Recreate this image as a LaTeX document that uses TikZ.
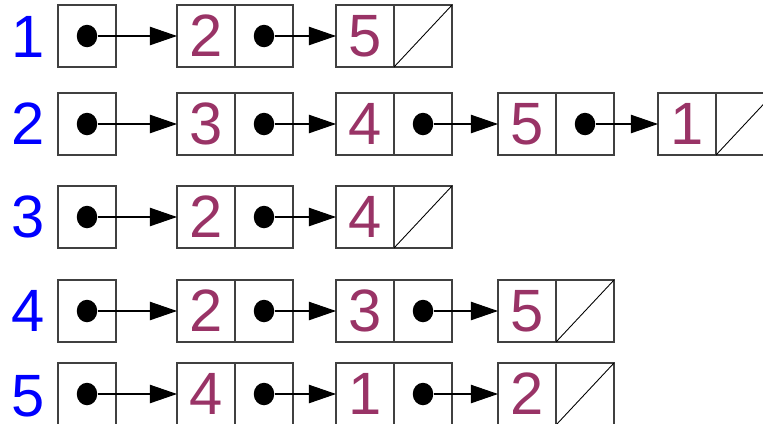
\documentclass[tikz,border=0pt]{standalone}
\usepackage{fontspec}
\setmainfont{Liberation Sans}
\usetikzlibrary{arrows.meta}
\definecolor{plum}{RGB}{153,51,102}
\tikzset{
    list diagram/.style = {>={Triangle[length=15.5pt, width=10.5pt]}},
    cell/.style         = {draw=black!75, line width=0.7pt,
                           minimum width=1.16cm, minimum height=1.24cm,
                           inner sep=0pt, outer sep=0pt},
    val/.style          = {cell, text=plum,
                           font=\fontsize{34}{38}\selectfont},
    head/.style         = {text=blue, font=\fontsize{34}{38}\selectfont},
    dot/.style          = {ellipse, fill=black, minimum width=0.41cm,
                           minimum height=0.45cm, inner sep=0pt},
    link/.style         = {line width=0.6pt},
    nil/.style          = {line width=0.5pt}
}
\usetikzlibrary{shapes.geometric}

\begin{document}
\begin{tikzpicture}[list diagram, x=0.02cm, y=-0.02cm]
\useasboundingbox (0,0) rectangle (763,423);

% ================= Row 1 =================
\node[head] (l1) at (28,37) {1};
\node[cell] (h1) at (87,36) {};
\node[dot]  (dh1) at (h1) {};
\node[val]  (v12) at (206,36) {2};
\node[cell] (p12) at (264,36) {};
\node[dot]  (d12) at (p12) {};
\node[val]  (v13) at (365,36) {5};
\node[cell] (p13) at (423,36) {};

\draw[->, link] (dh1) -- (v12.west);
\draw[->, link] (d12) -- (v13.west);
\draw[nil] (p13.south west) -- (p13.north east);

% ================= Row 2 =================
\node[head] (l2) at (28,124) {2};
\node[cell] (h2) at (87,124) {};
\node[dot]  (dh2) at (h2) {};
\node[val]  (v22) at (206,124) {3};
\node[cell] (p22) at (264,124) {};
\node[dot]  (d22) at (p22) {};
\node[val]  (v23) at (365,124) {4};
\node[cell] (p23) at (423,124) {};
\node[dot]  (d23) at (p23) {};
\node[val]  (v24) at (527,124) {5};
\node[cell] (p24) at (585,124) {};
\node[dot]  (d24) at (p24) {};
\node[val]  (v25) at (687,124) {1};
\node[cell] (p25) at (745,124) {};

\draw[->, link] (dh2) -- (v22.west);
\draw[->, link] (d22) -- (v23.west);
\draw[->, link] (d23) -- (v24.west);
\draw[->, link] (d24) -- (v25.west);
\draw[nil] (p25.south west) -- (p25.north east);

% ================= Row 3 =================
\node[head] (l3) at (28,217) {3};
\node[cell] (h3) at (87,217) {};
\node[dot]  (dh3) at (h3) {};
\node[val]  (v32) at (206,217) {2};
\node[cell] (p32) at (264,217) {};
\node[dot]  (d32) at (p32) {};
\node[val]  (v33) at (365,217) {4};
\node[cell] (p33) at (423,217) {};

\draw[->, link] (dh3) -- (v32.west);
\draw[->, link] (d32) -- (v33.west);
\draw[nil] (p33.south west) -- (p33.north east);

% ================= Row 4 =================
\node[head] (l4) at (28,311) {4};
\node[cell] (h4) at (87,311) {};
\node[dot]  (dh4) at (h4) {};
\node[val]  (v42) at (206,311) {2};
\node[cell] (p42) at (264,311) {};
\node[dot]  (d42) at (p42) {};
\node[val]  (v43) at (365,311) {3};
\node[cell] (p43) at (423,311) {};
\node[dot]  (d43) at (p43) {};
\node[val]  (v44) at (527,311) {5};
\node[cell] (p44) at (585,311) {};

\draw[->, link] (dh4) -- (v42.west);
\draw[->, link] (d42) -- (v43.west);
\draw[->, link] (d43) -- (v44.west);
\draw[nil] (p44.south west) -- (p44.north east);

% ================= Row 5 =================
\node[head] (l5) at (28,396) {5};
\node[cell] (h5) at (87,394) {};
\node[dot]  (dh5) at (h5) {};
\node[val]  (v52) at (206,394) {4};
\node[cell] (p52) at (264,394) {};
\node[dot]  (d52) at (p52) {};
\node[val]  (v53) at (365,394) {1};
\node[cell] (p53) at (423,394) {};
\node[dot]  (d53) at (p53) {};
\node[val]  (v54) at (527,394) {2};
\node[cell] (p54) at (585,394) {};

\draw[->, link] (dh5) -- (v52.west);
\draw[->, link] (d52) -- (v53.west);
\draw[->, link] (d53) -- (v54.west);
\draw[nil] (p54.south west) -- (p54.north east);

\end{tikzpicture}
\end{document}
